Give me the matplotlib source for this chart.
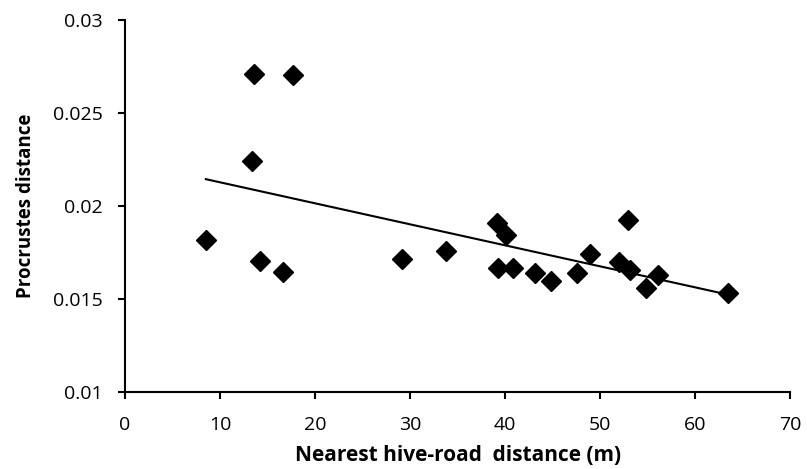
import numpy as np
import matplotlib.pyplot as plt

# Nearest hive-road distance (m) and Procrustes distance
mesafe = [8.5, 13.6, 17.65, 13.4, 14.2, 16.6, 29.1, 33.75, 39.1, 40.1, 39.3, 40.8,
          43.2, 44.8, 47.6, 48.9, 52.0, 52.96, 53.2, 54.8, 56.1, 63.5]
procrustes = [0.01817, 0.02713, 0.02704, 0.02242, 0.01704, 0.01647, 0.01713, 0.01760,
              0.01907, 0.01844, 0.01665, 0.01665, 0.01638, 0.01597, 0.01638, 0.01742,
              0.01701, 0.01928, 0.01656, 0.01561, 0.01629, 0.01534]
yTicks = [0.01, 0.015, 0.02, 0.025, 0.03]
yEtiket = ['0.01', '0.015', '0.02', '0.025', '0.03']

plt.rcParams['font.family'] = ['Open Sans', 'DejaVu Sans']
fig = plt.figure(figsize=(8.07, 4.69), dpi=100)
ax = fig.add_axes([0.155, 0.164, 0.824, 0.793])

ax.plot(mesafe, procrustes, 'D', color='black', markersize=10)

# Doğrusal eğilim çizgisi
a, b = np.polyfit(mesafe, procrustes, 1)
xs = np.array([min(mesafe), max(mesafe)])
ax.plot(xs, a * xs + b, color='black', linewidth=1.5)

ax.set_xlim(0, 70)
ax.set_ylim(0.01, 0.03)
ax.set_xticks(range(0, 71, 10))
ax.set_yticks(yTicks)
ax.set_yticklabels(yEtiket)
ax.spines['top'].set_visible(False)
ax.spines['right'].set_visible(False)
for s in ['left', 'bottom']:
    ax.spines[s].set_linewidth(1.5)
ax.tick_params(direction='out', length=5, width=1.5, labelsize=14)
ax.tick_params(axis='y', pad=11)
ax.tick_params(axis='x', pad=12)

ax.set_xlabel('Nearest hive-road  distance (m)', fontsize=15, fontweight='bold', labelpad=8)
ax.set_ylabel('Procrustes distance', fontsize=13.5, fontweight='bold', labelpad=12)

plt.savefig('out.png', dpi=100)
